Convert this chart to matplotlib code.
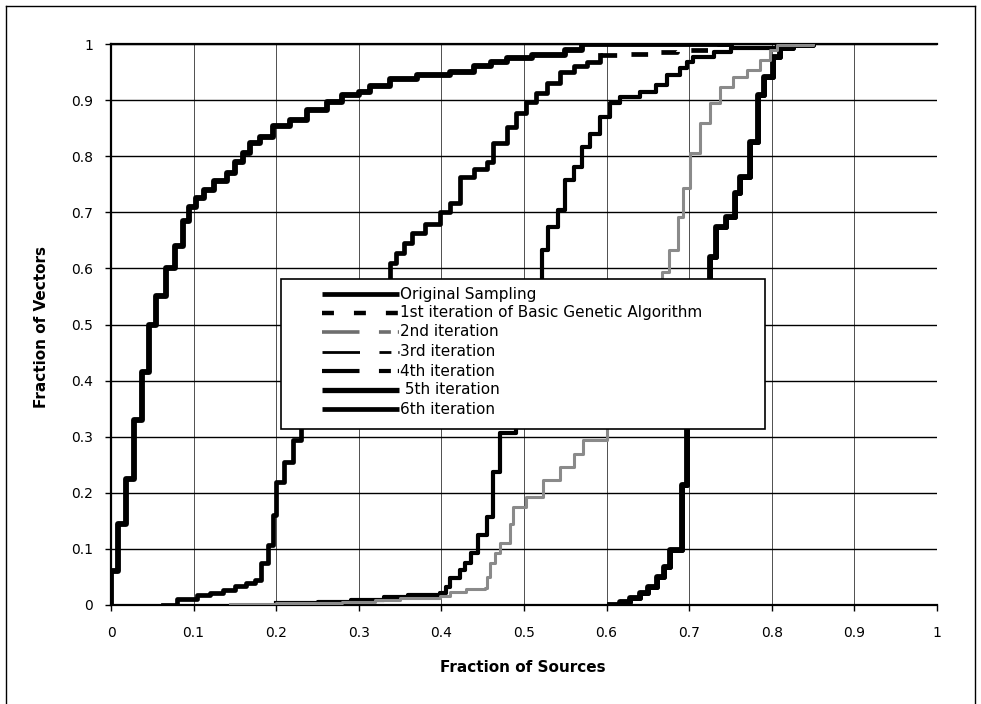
import matplotlib
matplotlib.use("Agg")
import matplotlib.pyplot as plt
from matplotlib.lines import Line2D
from matplotlib.patches import Rectangle

plt.rcParams['font.family'] = ['DejaVu Sans']
plt.rcParams['lines.scale_dashes'] = False

# step curves (fraction of sources, fraction of vectors)
orig_x = [0, 0.0, 0.008, 0.018, 0.028, 0.038, 0.046, 0.055, 0.066, 0.077,
          0.087, 0.095, 0.103, 0.113, 0.125, 0.14, 0.15, 0.16, 0.168, 0.18,
          0.196, 0.217, 0.237, 0.261, 0.28, 0.3, 0.313, 0.338, 0.37, 0.41,
          0.44, 0.46, 0.48, 0.51, 0.55, 0.57, 0.75]
orig_y = [0, 0.06, 0.145, 0.225, 0.33, 0.415, 0.5, 0.55, 0.6, 0.64,
          0.685, 0.71, 0.725, 0.74, 0.755, 0.77, 0.79, 0.805, 0.823, 0.835,
          0.853, 0.865, 0.882, 0.897, 0.909, 0.915, 0.925, 0.937, 0.945, 0.95,
          0.96, 0.968, 0.975, 0.98, 0.99, 1.0, 1.0]

it1_x = [0.063, 0.08, 0.104, 0.12, 0.136, 0.15, 0.164, 0.174, 0.182, 0.19,
         0.196, 0.2, 0.21, 0.22, 0.23, 0.245, 0.26, 0.28, 0.3, 0.32,
         0.338, 0.345, 0.355, 0.365, 0.38, 0.398, 0.41, 0.422, 0.44, 0.455,
         0.463, 0.479, 0.49, 0.503, 0.515, 0.528, 0.543, 0.56, 0.576, 0.592,
         0.62, 0.66, 0.685, 0.733, 0.75]
it1_y = [0, 0.01, 0.018, 0.022, 0.027, 0.033, 0.039, 0.045, 0.075, 0.107,
         0.16, 0.22, 0.255, 0.295, 0.32, 0.35, 0.4, 0.45, 0.5, 0.55,
         0.61, 0.627, 0.645, 0.663, 0.68, 0.7, 0.716, 0.763, 0.778, 0.79,
         0.823, 0.852, 0.877, 0.897, 0.912, 0.93, 0.95, 0.96, 0.968, 0.98,
         0.983, 0.985, 0.99, 1.0, 1.0]

it2_x = [0.144, 0.2, 0.28, 0.32, 0.35, 0.398, 0.41, 0.43, 0.453, 0.455,
         0.459, 0.465, 0.471, 0.483, 0.487, 0.503, 0.523, 0.543, 0.56, 0.572,
         0.6, 0.64, 0.667, 0.675, 0.686, 0.693, 0.701, 0.713, 0.725, 0.737,
         0.753, 0.77, 0.786, 0.798, 0.806, 0.85]
it2_y = [0.002, 0.004, 0.006, 0.009, 0.012, 0.016, 0.023, 0.028, 0.03, 0.05,
         0.075, 0.093, 0.11, 0.145, 0.175, 0.193, 0.223, 0.246, 0.27, 0.294,
         0.4, 0.5, 0.594, 0.633, 0.692, 0.743, 0.806, 0.859, 0.895, 0.923,
         0.941, 0.954, 0.971, 0.989, 0.998, 1.0]

it3_x = [0.2, 0.25, 0.29, 0.33, 0.36, 0.398, 0.405, 0.41, 0.422, 0.428,
         0.436, 0.444, 0.455, 0.462, 0.471, 0.49, 0.51, 0.522, 0.529, 0.541,
         0.55, 0.56, 0.57, 0.58, 0.592, 0.604, 0.616, 0.64, 0.66, 0.673,
         0.689, 0.697, 0.705, 0.73, 0.75, 0.806, 0.85]
it3_y = [0.003, 0.006, 0.009, 0.014, 0.018, 0.021, 0.032, 0.048, 0.062, 0.075,
         0.093, 0.125, 0.157, 0.237, 0.306, 0.45, 0.55, 0.633, 0.674, 0.704,
         0.757, 0.78, 0.816, 0.84, 0.87, 0.895, 0.906, 0.915, 0.927, 0.945,
         0.957, 0.968, 0.977, 0.986, 0.993, 1.0, 1.0]

# 4th iteration lies on top of the 3rd, 6th on top of the 5th
it4_x, it4_y = it3_x, it3_y

it5_x = [0.604, 0.616, 0.628, 0.64, 0.65, 0.661, 0.67, 0.677, 0.691, 0.697,
         0.71, 0.725, 0.733, 0.745, 0.755, 0.761, 0.774, 0.783, 0.79, 0.801,
         0.81, 0.826, 0.85]
it5_y = [0, 0.005, 0.012, 0.021, 0.032, 0.05, 0.068, 0.098, 0.214, 0.35,
         0.5, 0.62, 0.674, 0.692, 0.734, 0.763, 0.825, 0.909, 0.941, 0.977,
         0.993, 0.998, 1.0]
it6_x, it6_y = it5_x, it5_y

labels = ['Original Sampling', '1st iteration of Basic Genetic Algorithm',
          '2nd iteration', '3rd iteration', '4th iteration', ' 5th iteration',
          '6th iteration']
ticks = [0, 0.1, 0.2, 0.3, 0.4, 0.5, 0.6, 0.7, 0.8, 0.9, 1]
tick_labels = ['0', '0.1', '0.2', '0.3', '0.4', '0.5', '0.6', '0.7', '0.8', '0.9', '1']

fig = plt.figure(figsize=(9.81, 7.04), dpi=100)
ax = fig.add_axes([111/981, 99/704, 826/981, 561/704])

ax.set_xlim(0, 1)
ax.set_ylim(0, 1)
ax.set_xticks(ticks)
ax.set_yticks(ticks)
ax.set_xticklabels(tick_labels)
ax.set_yticklabels(tick_labels)
ax.tick_params(direction='out', length=4, width=1, labelsize=10, colors='black')
ax.tick_params(axis='x', pad=11)
ax.tick_params(axis='y', pad=9)

ax.yaxis.grid(True, color='black', lw=1.0)
ax.xaxis.grid(True, color='#333333', lw=0.6)
ax.set_axisbelow(True)
for s in ['left', 'bottom', 'top']:
    ax.spines[s].set_linewidth(1.6)
ax.spines['right'].set_visible(False)

ax.step(it6_x, it6_y, where='post', color='black', lw=3.6, zorder=3)
ax.step(it5_x, it5_y, where='post', color='black', lw=4.2, zorder=3)
ax.step(it4_x, it4_y, where='post', color='black', lw=3.0, zorder=3)
ax.step(it3_x, it3_y, where='post', color='black', lw=2.6, zorder=3)
ax.step(it2_x, it2_y, where='post', color='#8a8a8a', lw=2.2, zorder=3)
# 1st iteration: the short stairs look solid, the flat tail shows the dashes
ax.step(it1_x[:40], it1_y[:40], where='post', color='black', lw=3.4, zorder=3)
ax.step(it1_x[39:], it1_y[39:], where='post', color='black', lw=3.4, zorder=3,
        dashes=(12, 11))
ax.step(orig_x, orig_y, where='post', color='black', lw=4.2, zorder=4)

# legend box drawn by hand to match the spreadsheet layout
def ax_x(px):
    return (px - 111) / 826

def ax_y(py):
    return (605 - py) / 561

ax.add_patch(Rectangle((ax_x(281), ax_y(429)), ax_x(765) - ax_x(281), ax_y(279) - ax_y(429),
                       transform=ax.transAxes, facecolor='white', edgecolor='black',
                       lw=1.2, zorder=6, clip_on=False))
long_dash = (27, 14, 8.6, 5)
styles = [dict(color='black', lw=3.4),
          dict(color='black', lw=3.2, dashes=(8.6, 14.4)),
          dict(color='#6e6e6e', lw=2.6, dashes=long_dash),
          dict(color='black', lw=2.0, dashes=long_dash),
          dict(color='black', lw=3.0, dashes=long_dash),
          dict(color='black', lw=3.8),
          dict(color='black', lw=3.4)]
rows = [294, 313, 332, 352, 371, 390, 409]
for lab, st, py in zip(labels, styles, rows):
    ax.add_line(Line2D([ax_x(322), ax_x(399)], [ax_y(py), ax_y(py)], transform=ax.transAxes,
                       zorder=7, clip_on=False, solid_capstyle='butt',
                       dash_capstyle='butt', **st))
    ax.text(ax_x(400), ax_y(py), lab, transform=ax.transAxes, fontsize=11,
            va='center', ha='left', zorder=8)

fig.text(523/981, 1 - 667/704, 'Fraction of Sources', ha='center', va='center',
         fontsize=11, fontweight='bold')
fig.text(42/981, 1 - 327/704, 'Fraction of Vectors', ha='center', va='center',
         fontsize=11, fontweight='bold', rotation=90)

# outer border of the pasted chart
fig.add_artist(Line2D([6/981, 6/981], [0, 1 - 6/704], transform=fig.transFigure, color='black', lw=1))
fig.add_artist(Line2D([6/981, 975/981], [1 - 6/704, 1 - 6/704], transform=fig.transFigure, color='black', lw=1))
fig.add_artist(Line2D([975/981, 975/981], [0, 1 - 6/704], transform=fig.transFigure, color='black', lw=1))

fig.savefig('out.png', dpi=100)
